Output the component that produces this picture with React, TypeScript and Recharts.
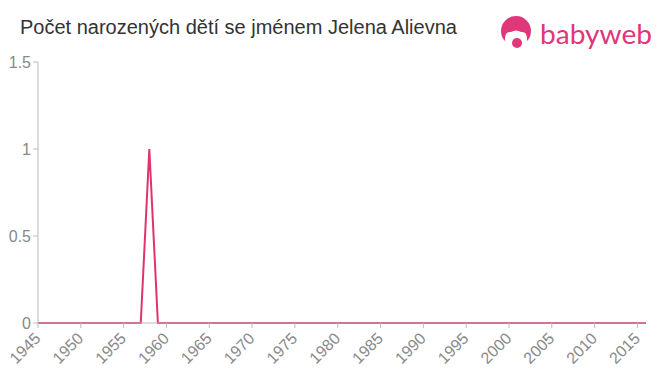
import React from 'react';
import { LineChart, Line, XAxis, YAxis } from 'recharts';

const YEARS = [
  1945, 1946, 1947, 1948, 1949, 1950, 1951, 1952, 1953, 1954, 1955, 1956,
  1957, 1958, 1959, 1960, 1961, 1962, 1963, 1964, 1965, 1966, 1967, 1968,
  1969, 1970, 1971, 1972, 1973, 1974, 1975, 1976, 1977, 1978, 1979, 1980,
  1981, 1982, 1983, 1984, 1985, 1986, 1987, 1988, 1989, 1990, 1991, 1992,
  1993, 1994, 1995, 1996, 1997, 1998, 1999, 2000, 2001, 2002, 2003, 2004,
  2005, 2006, 2007, 2008, 2009, 2010, 2011, 2012, 2013, 2014, 2015, 2016,
];

const BIRTHS = [
  0, 0, 0, 0, 0, 0, 0, 0, 0, 0, 0, 0,
  0, 1, 0, 0, 0, 0, 0, 0, 0, 0, 0, 0,
  0, 0, 0, 0, 0, 0, 0, 0, 0, 0, 0, 0,
  0, 0, 0, 0, 0, 0, 0, 0, 0, 0, 0, 0,
  0, 0, 0, 0, 0, 0, 0, 0, 0, 0, 0, 0,
  0, 0, 0, 0, 0, 0, 0, 0, 0, 0, 0, 0,
];

const X_TICKS = [1945, 1950, 1955, 1960, 1965, 1970, 1975, 1980, 1985, 1990, 1995, 2000, 2005, 2010, 2015];
const Y_TICKS = [0, 0.5, 1, 1.5];

const TITLE = 'Počet narozených dětí se jménem Jelena Alievna';

const data = YEARS.map((year, i) => ({ year, value: BIRTHS[i] }));

const AXIS_COLOR = '#bbbbbb';
const TICK_COLOR = '#888888';
const LINE_COLOR = '#e0336c';
const LOGO_COLOR = '#e0367a';
const FONT = "'Liberation Sans', Arial, sans-serif";

const RotatedTick = ({ x, y, payload }: any) => (
  <g transform={`translate(${x - 5},${y + 1})`}>
    <text
      x={0}
      y={0}
      dy={12}
      textAnchor="end"
      transform="rotate(-45)"
      fill={TICK_COLOR}
      style={{ fontSize: 16, fontFamily: FONT }}
    >
      {payload.value}
    </text>
  </g>
);

const Logo = () => (
  <svg width={170} height={50} style={{ position: 'absolute', left: 490, top: 5 }}>
    <circle cx={26} cy={26} r={15} fill={LOGO_COLOR} />
    <path d="M15 34 Q15 26 21 27 Q26 24 31 27 Q37 26 37 34 Q37 44 26 44 Q15 44 15 34 Z" fill="#fff" />
    <circle cx={27} cy={38} r={5} fill={LOGO_COLOR} />
    <text
      x={50}
      y={39}
      fill={LOGO_COLOR}
      fontSize={27}
      fontFamily="Lato, 'Open Sans', sans-serif"
      textLength={112}
      lengthAdjust="spacingAndGlyphs"
    >
      babyweb
    </text>
  </svg>
);

export default function App() {
  return (
    <div style={{ position: 'absolute', left: 0, top: 0, width: 660, height: 375, background: '#fff' }}>
      <div
        style={{
          position: 'absolute',
          left: 20,
          top: 16,
          fontSize: 20,
          color: '#333333',
          fontFamily: FONT,
          whiteSpace: 'nowrap',
        }}
      >
        {TITLE}
      </div>
      <Logo />
      <LineChart width={660} height={375} data={data} margin={{ top: 62, right: 14, bottom: 0, left: 0 }}>
        <XAxis
          dataKey="year"
          type="number"
          domain={[1945, 2016]}
          ticks={X_TICKS}
          interval={0}
          stroke={AXIS_COLOR}
          tickSize={5}
          tickLine={{ stroke: AXIS_COLOR }}
          tick={<RotatedTick />}
          height={52}
        />
        <YAxis
          domain={[0, 1.5]}
          ticks={Y_TICKS}
          width={38}
          stroke={AXIS_COLOR}
          tickSize={5}
          tickLine={{ stroke: AXIS_COLOR }}
          tick={{ fill: TICK_COLOR, fontSize: 16, fontFamily: FONT }}
        />
        <Line
          type="linear"
          dataKey="value"
          stroke={LINE_COLOR}
          strokeWidth={2}
          dot={false}
          isAnimationActive={false}
        />
      </LineChart>
    </div>
  );
}
